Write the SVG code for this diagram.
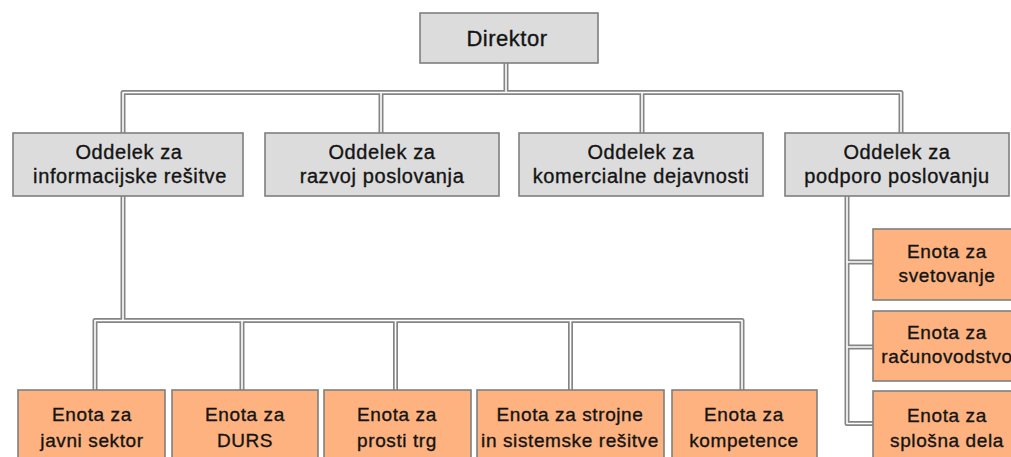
<svg xmlns="http://www.w3.org/2000/svg" width="1011" height="457" viewBox="0 0 1011 457">
  <style>
    .dept rect { fill: #dcdcdc; stroke: #7f7f7f; stroke-width: 1.6; }
    .unit rect { fill: #fdb27f; stroke: #7f7f7f; stroke-width: 1.6; }
    text { font-family: "Liberation Sans", Arial, sans-serif; fill: #141414; stroke: #141414; stroke-width: 0.35px; text-anchor: middle; }
    .dept text { font-size: 20px; letter-spacing: 0.6px; }
    .unit text { font-size: 19px; letter-spacing: 0.6px; }
    .top text { font-size: 22px; letter-spacing: 0.5px; }
    .outer { fill: none; stroke: #858585; stroke-width: 5; stroke-linejoin: round; }
    .inner { fill: none; stroke: #ffffff; stroke-width: 1.6; stroke-linejoin: round; }
  </style>
  <defs>
    <path id="tree" d="M506 63 V92.5 M123 133 V92.5 H901 V133 M381 92.5 V133 M642 92.5 V133 M123 196 V320.5 M95 390 V320.5 H742 V390 M242 320.5 V390 M395.5 320.5 V390 M570.5 320.5 V390 M847 196 V423.5 H873 M847 262 H873 M847 347 H873"/>
  </defs>

  <!-- connectors: grey double rule made of a wide grey stroke with a thin white core -->
  <g id="connectors">
    <use href="#tree" class="outer"/>
    <use href="#tree" class="inner"/>
  </g>

  <g id="direktor" class="dept top">
    <rect x="420" y="13" width="178" height="50"/>
    <text x="507" y="46">Direktor</text>
  </g>

  <g id="oddelek-informacijske" class="dept">
    <rect x="13" y="133" width="230" height="63"/>
    <text x="129" y="159">Oddelek za</text>
    <text x="130" y="183">informacijske rešitve</text>
  </g>
  <g id="oddelek-razvoj" class="dept">
    <rect x="265" y="133" width="234" height="63"/>
    <text x="382" y="159">Oddelek za</text>
    <text x="382" y="183">razvoj poslovanja</text>
  </g>
  <g id="oddelek-komercialne" class="dept">
    <rect x="519" y="133" width="244" height="63"/>
    <text x="641" y="159">Oddelek za</text>
    <text x="641" y="183">komercialne dejavnosti</text>
  </g>
  <g id="oddelek-podpora" class="dept">
    <rect x="785" y="133" width="224" height="63"/>
    <text x="897" y="159">Oddelek za</text>
    <text x="897" y="183">podporo poslovanju</text>
  </g>

  <g id="enota-javni" class="unit">
    <rect x="18" y="390" width="147" height="80"/>
    <text x="92" y="421">Enota za</text>
    <text x="92" y="447">javni sektor</text>
  </g>
  <g id="enota-durs" class="unit">
    <rect x="172" y="390" width="146" height="80"/>
    <text x="245" y="421">Enota za</text>
    <text x="245" y="447">DURS</text>
  </g>
  <g id="enota-prosti" class="unit">
    <rect x="324" y="390" width="147" height="80"/>
    <text x="397" y="421">Enota za</text>
    <text x="397" y="447">prosti trg</text>
  </g>
  <g id="enota-strojne" class="unit">
    <rect x="477" y="390" width="187" height="80"/>
    <text x="570" y="421">Enota za strojne</text>
    <text x="570" y="447">in sistemske rešitve</text>
  </g>
  <g id="enota-kompetence" class="unit">
    <rect x="672" y="390" width="145" height="80"/>
    <text x="744" y="421">Enota za</text>
    <text x="744" y="447">kompetence</text>
  </g>

  <g id="enota-svetovanje" class="unit">
    <rect x="873" y="229" width="148" height="71"/>
    <text x="947" y="258">Enota za</text>
    <text x="947" y="282">svetovanje</text>
  </g>
  <g id="enota-racunovodstvo" class="unit">
    <rect x="873" y="311" width="148" height="70"/>
    <text x="947" y="339">Enota za</text>
    <text x="947" y="363">računovodstvo</text>
  </g>
  <g id="enota-splosna" class="unit">
    <rect x="873" y="391" width="148" height="80"/>
    <text x="947" y="422">Enota za</text>
    <text x="947" y="447">splošna dela</text>
  </g>
</svg>
